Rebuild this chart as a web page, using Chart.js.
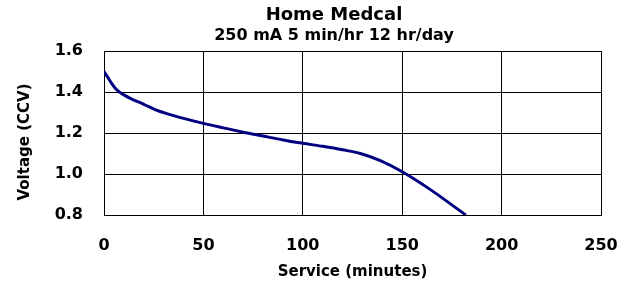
<!DOCTYPE html>
<html>
<head>
<meta charset="utf-8">
<script src="https://cdn.jsdelivr.net/npm/chart.js@4/dist/chart.umd.min.js"></script>
<style>
  html, body { margin: 0; padding: 0; background: #fff; }
  #wrap { width: 631px; height: 281px; }
</style>
</head>
<body>
<div id="wrap"><canvas id="dischargeChart" width="631" height="281"></canvas></div>
<script>
// data
const serviceMinutes = [0, 2, 4, 6, 8, 10, 13, 20, 26, 35, 50, 60, 70, 80, 90, 100, 110, 120, 129, 139, 150, 164, 182];
const voltage = [1.50, 1.47, 1.44, 1.415, 1.398, 1.386, 1.37, 1.34, 1.313, 1.285, 1.247, 1.225, 1.204, 1.185, 1.166, 1.15, 1.135, 1.118, 1.10, 1.065, 1.011, 0.925, 0.80];
const xTicks = [0, 50, 100, 150, 200, 250];
const yTicks = [0.8, 1.0, 1.2, 1.4, 1.6];

const chartTitle = 'Home Medcal';
const chartSubtitle = '250 mA 5 min/hr 12 hr/day';
const yTitle = 'Voltage (CCV)';
const xTitle = 'Service (minutes)';

const FONT = "'DejaVu Sans', Verdana, sans-serif";

// titles drawn by hand so they sit where the reference has them
const titlesPlugin = {
    id: 'titles',
    afterDraw(chart) {
        const ctx = chart.ctx;
        ctx.save();
        ctx.fillStyle = '#000';
        ctx.textAlign = 'center';
        ctx.textBaseline = 'middle';
        ctx.font = 'bold 18px ' + FONT;
        ctx.fillText(chartTitle, 334, 15);
        ctx.font = 'bold 16px ' + FONT;
        ctx.fillText(chartSubtitle, 334, 36);

        ctx.translate(25, 142);
        ctx.rotate(-Math.PI / 2);
        ctx.font = 'bold 15px ' + FONT;
        ctx.fillText(yTitle, 0, 0);
        ctx.restore();
    }
};

const points = serviceMinutes.map((m, i) => ({ x: m, y: voltage[i] }));

const ctx = document.getElementById('dischargeChart').getContext('2d');
const dischargeChart = new Chart(ctx, {
    type: 'line',
    data: {
        datasets: [{
            data: points,
            borderColor: '#000080',
            borderWidth: 3,
            pointRadius: 0,
            fill: false,
            cubicInterpolationMode: 'monotone'
        }]
    },
    options: {
        responsive: false,
        animation: false,
        layout: { padding: { top: 51, right: 30, bottom: 0, left: 0 } },
        plugins: {
            legend: { display: false },
            tooltip: { enabled: false }
        },
        scales: {
            x: {
                type: 'linear',
                min: 0,
                max: 250,
                afterFit: scale => {
                    scale.height = 66;
                    scale.paddingLeft = 0;
                    scale.paddingRight = 0;
                },
                afterBuildTicks: scale => { scale.ticks = xTicks.map(v => ({ value: v })); },
                grid: { color: '#000', lineWidth: 1, drawTicks: false },
                border: { color: '#000', width: 1 },
                ticks: {
                    padding: 21,
                    color: '#000',
                    maxRotation: 0,
                    font: { family: FONT, size: 16, weight: 'bold' }
                },
                title: {
                    display: true,
                    text: xTitle,
                    color: '#000',
                    padding: { top: 0, bottom: 0 },
                    font: { family: FONT, size: 15, weight: 'bold' }
                }
            },
            y: {
                min: 0.8,
                max: 1.6,
                afterFit: scale => {
                    scale.width = 104;
                    scale.paddingTop = 0;
                    scale.paddingBottom = 0;
                },
                afterBuildTicks: scale => { scale.ticks = yTicks.map(v => ({ value: v })); },
                grid: { color: '#000', lineWidth: 1, drawTicks: false },
                border: { color: '#000', width: 1 },
                ticks: {
                    padding: 21,
                    color: '#000',
                    font: { family: FONT, size: 16, weight: 'bold' },
                    callback: v => v.toFixed(1)
                }
            }
        }
    },
    plugins: [titlesPlugin]
});
</script>
</body>
</html>
